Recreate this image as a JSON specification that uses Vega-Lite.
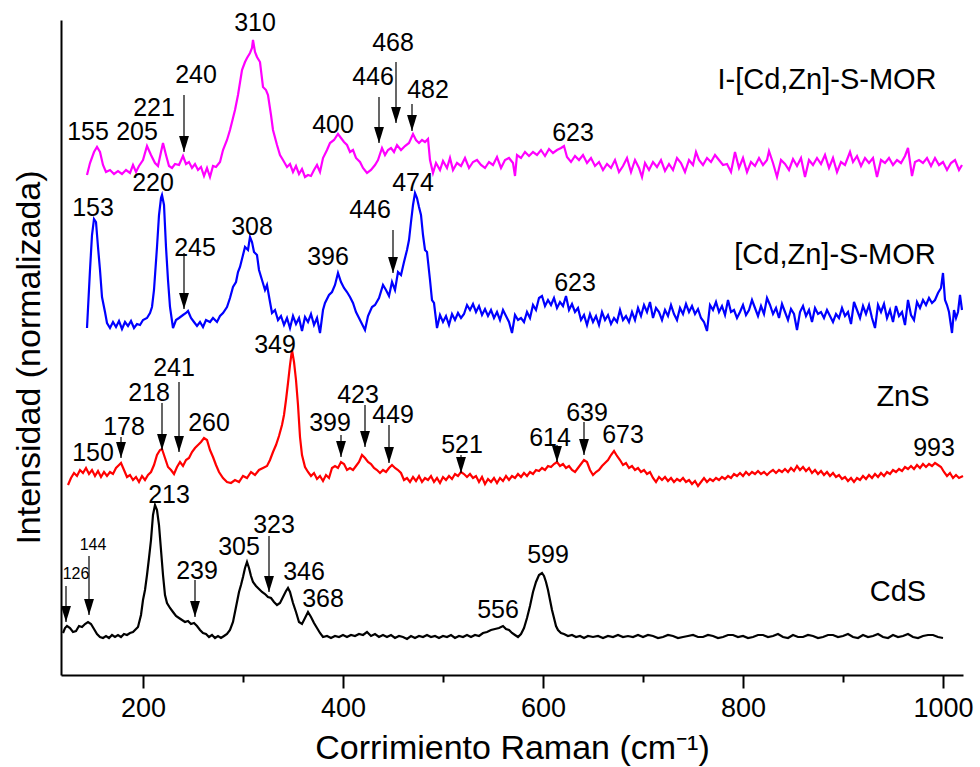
{
"$schema":"https://vega.github.io/schema/vega-lite/v6.json",
"width":902,"height":655,
"autosize":{"type":"none"},
"padding":{"left":61,"top":20,"right":17,"bottom":92},
"background":"white",
"config":{"view":{"stroke":null},"font":"Liberation Sans","axis":{"grid":false}},
"datasets":{
"mag":[{"x":144,"y":500},{"x":147,"y":512},{"x":151,"y":523},{"x":154,"y":528},{"x":157,"y":523},{"x":160,"y":510},{"x":163,"y":503},{"x":167,"y":505},{"x":171,"y":501},{"x":175,"y":504},{"x":179,"y":501},{"x":183,"y":505},{"x":187,"y":502},{"x":190,"y":510},{"x":193,"y":503},{"x":196,"y":509},{"x":200,"y":515},{"x":204,"y":529},{"x":208,"y":520},{"x":212,"y":512},{"x":215,"y":509},{"x":218,"y":523},{"x":220,"y":532},{"x":223,"y":520},{"x":226,"y":509},{"x":229,"y":507},{"x":232,"y":511},{"x":236,"y":510},{"x":240,"y":519},{"x":243,"y":511},{"x":246,"y":513},{"x":249,"y":507},{"x":252,"y":511},{"x":255,"y":505},{"x":258,"y":508},{"x":261,"y":499},{"x":264,"y":507},{"x":267,"y":498},{"x":270,"y":509},{"x":273,"y":508},{"x":277,"y":513},{"x":280,"y":525},{"x":284,"y":535},{"x":287,"y":545},{"x":290,"y":557},{"x":292,"y":565},{"x":295,"y":580},{"x":299,"y":605},{"x":302,"y":613},{"x":304,"y":617},{"x":307,"y":622},{"x":309,"y":627},{"x":310,"y":635},{"x":312,"y":623},{"x":314,"y":618},{"x":317,"y":613},{"x":320,"y":588},{"x":323,"y":585},{"x":325,"y":580},{"x":328,"y":560},{"x":330,"y":545},{"x":334,"y":530},{"x":337,"y":520},{"x":340,"y":515},{"x":344,"y":508},{"x":347,"y":511},{"x":350,"y":503},{"x":353,"y":509},{"x":356,"y":501},{"x":359,"y":506},{"x":362,"y":498},{"x":365,"y":500},{"x":368,"y":499},{"x":371,"y":505},{"x":374,"y":510},{"x":377,"y":503},{"x":380,"y":517},{"x":384,"y":525},{"x":387,"y":532},{"x":391,"y":535},{"x":395,"y":541},{"x":398,"y":537},{"x":401,"y":533},{"x":404,"y":530},{"x":407,"y":523},{"x":410,"y":525},{"x":413,"y":517},{"x":417,"y":513},{"x":420,"y":507},{"x":424,"y":502},{"x":428,"y":505},{"x":432,"y":510},{"x":435,"y":515},{"x":439,"y":527},{"x":442,"y":520},{"x":445,"y":525},{"x":448,"y":527},{"x":451,"y":523},{"x":454,"y":530},{"x":458,"y":525},{"x":462,"y":529},{"x":466,"y":532},{"x":470,"y":541},{"x":473,"y":535},{"x":476,"y":532},{"x":479,"y":535},{"x":482,"y":533},{"x":485,"y":536},{"x":487,"y":515},{"x":490,"y":502},{"x":493,"y":512},{"x":497,"y":505},{"x":500,"y":514},{"x":504,"y":507},{"x":507,"y":517},{"x":510,"y":505},{"x":514,"y":512},{"x":518,"y":509},{"x":522,"y":517},{"x":526,"y":507},{"x":530,"y":513},{"x":534,"y":515},{"x":538,"y":510},{"x":542,"y":507},{"x":546,"y":513},{"x":550,"y":510},{"x":554,"y":518},{"x":558,"y":507},{"x":562,"y":515},{"x":566,"y":517},{"x":570,"y":512},{"x":572,"y":499},{"x":574,"y":520},{"x":578,"y":517},{"x":582,"y":523},{"x":586,"y":519},{"x":590,"y":523},{"x":594,"y":520},{"x":598,"y":525},{"x":602,"y":519},{"x":606,"y":526},{"x":610,"y":522},{"x":614,"y":525},{"x":618,"y":527},{"x":621,"y":529},{"x":624,"y":518},{"x":628,"y":513},{"x":632,"y":519},{"x":636,"y":515},{"x":640,"y":520},{"x":644,"y":512},{"x":648,"y":517},{"x":652,"y":509},{"x":656,"y":513},{"x":660,"y":505},{"x":664,"y":511},{"x":668,"y":507},{"x":672,"y":515},{"x":676,"y":503},{"x":680,"y":509},{"x":684,"y":517},{"x":688,"y":503},{"x":692,"y":515},{"x":696,"y":507},{"x":699,"y":498},{"x":702,"y":512},{"x":706,"y":505},{"x":710,"y":513},{"x":714,"y":508},{"x":718,"y":515},{"x":722,"y":504},{"x":726,"y":511},{"x":730,"y":505},{"x":734,"y":517},{"x":738,"y":512},{"x":742,"y":503},{"x":746,"y":515},{"x":750,"y":510},{"x":753,"y":523},{"x":756,"y":515},{"x":760,"y":510},{"x":764,"y":517},{"x":768,"y":513},{"x":772,"y":520},{"x":776,"y":515},{"x":780,"y":510},{"x":784,"y":511},{"x":788,"y":503},{"x":792,"y":523},{"x":796,"y":507},{"x":800,"y":517},{"x":804,"y":503},{"x":808,"y":513},{"x":812,"y":509},{"x":816,"y":517},{"x":820,"y":510},{"x":824,"y":515},{"x":826,"y":524},{"x":830,"y":512},{"x":834,"y":498},{"x":838,"y":515},{"x":842,"y":511},{"x":846,"y":505},{"x":850,"y":516},{"x":854,"y":509},{"x":858,"y":517},{"x":862,"y":498},{"x":866,"y":515},{"x":870,"y":510},{"x":874,"y":517},{"x":878,"y":511},{"x":882,"y":520},{"x":886,"y":507},{"x":890,"y":517},{"x":894,"y":503},{"x":898,"y":513},{"x":902,"y":510},{"x":907,"y":523},{"x":910,"y":513},{"x":914,"y":519},{"x":918,"y":509},{"x":922,"y":517},{"x":926,"y":512},{"x":930,"y":517},{"x":934,"y":498},{"x":938,"y":515},{"x":942,"y":512},{"x":946,"y":517},{"x":950,"y":510},{"x":954,"y":515},{"x":958,"y":512},{"x":962,"y":519},{"x":965,"y":527},{"x":969,"y":499},{"x":972,"y":513},{"x":976,"y":515},{"x":980,"y":512},{"x":984,"y":517},{"x":988,"y":509},{"x":992,"y":517},{"x":996,"y":510},{"x":1000,"y":513},{"x":1004,"y":505},{"x":1008,"y":512},{"x":1012,"y":515},{"x":1016,"y":505},{"x":1019,"y":510}],
"blue":[{"x":144,"y":347},{"x":147,"y":405},{"x":149,"y":440},{"x":151,"y":456},{"x":153,"y":453},{"x":155,"y":428},{"x":157,"y":405},{"x":159,"y":378},{"x":162,"y":363},{"x":164,"y":352},{"x":167,"y":347},{"x":170,"y":353},{"x":173,"y":348},{"x":176,"y":354},{"x":179,"y":346},{"x":182,"y":353},{"x":185,"y":349},{"x":188,"y":354},{"x":191,"y":347},{"x":194,"y":351},{"x":197,"y":350},{"x":200,"y":355},{"x":204,"y":357},{"x":207,"y":362},{"x":209,"y":368},{"x":211,"y":385},{"x":214,"y":428},{"x":216,"y":460},{"x":218,"y":477},{"x":219,"y":480},{"x":221,"y":470},{"x":223,"y":428},{"x":225,"y":395},{"x":227,"y":368},{"x":230,"y":347},{"x":233,"y":355},{"x":236,"y":357},{"x":240,"y":360},{"x":243,"y":362},{"x":245,"y":364},{"x":248,"y":357},{"x":251,"y":353},{"x":254,"y":349},{"x":257,"y":353},{"x":260,"y":348},{"x":263,"y":355},{"x":267,"y":353},{"x":270,"y":357},{"x":274,"y":353},{"x":277,"y":359},{"x":280,"y":362},{"x":284,"y":368},{"x":287,"y":377},{"x":290,"y":388},{"x":293,"y":393},{"x":295,"y":403},{"x":297,"y":408},{"x":300,"y":420},{"x":302,"y":428},{"x":305,"y":425},{"x":307,"y":438},{"x":309,"y":433},{"x":311,"y":423},{"x":314,"y":420},{"x":316,"y":405},{"x":319,"y":395},{"x":322,"y":385},{"x":324,"y":390},{"x":327,"y":373},{"x":329,"y":362},{"x":332,"y":365},{"x":335,"y":355},{"x":338,"y":359},{"x":341,"y":350},{"x":344,"y":357},{"x":347,"y":347},{"x":350,"y":359},{"x":353,"y":351},{"x":356,"y":357},{"x":359,"y":344},{"x":362,"y":358},{"x":365,"y":353},{"x":368,"y":361},{"x":371,"y":350},{"x":374,"y":357},{"x":377,"y":342},{"x":380,"y":365},{"x":382,"y":372},{"x":386,"y":380},{"x":389,"y":383},{"x":392,"y":390},{"x":395,"y":402},{"x":398,"y":393},{"x":401,"y":387},{"x":404,"y":383},{"x":407,"y":378},{"x":410,"y":372},{"x":413,"y":363},{"x":416,"y":357},{"x":419,"y":351},{"x":422,"y":345},{"x":425,"y":359},{"x":429,"y":368},{"x":432,"y":370},{"x":436,"y":377},{"x":440,"y":390},{"x":443,"y":385},{"x":446,"y":379},{"x":449,"y":393},{"x":452,"y":385},{"x":455,"y":403},{"x":458,"y":400},{"x":461,"y":413},{"x":464,"y":425},{"x":466,"y":435},{"x":468,"y":453},{"x":470,"y":470},{"x":472,"y":482},{"x":474,"y":477},{"x":476,"y":468},{"x":478,"y":460},{"x":480,"y":440},{"x":482,"y":425},{"x":484,"y":423},{"x":487,"y":395},{"x":489,"y":375},{"x":491,"y":372},{"x":494,"y":347},{"x":497,"y":360},{"x":500,"y":353},{"x":503,"y":359},{"x":506,"y":350},{"x":509,"y":361},{"x":512,"y":355},{"x":515,"y":362},{"x":518,"y":357},{"x":521,"y":361},{"x":524,"y":370},{"x":527,"y":365},{"x":530,"y":371},{"x":533,"y":363},{"x":536,"y":369},{"x":539,"y":360},{"x":542,"y":366},{"x":545,"y":359},{"x":548,"y":365},{"x":551,"y":357},{"x":554,"y":363},{"x":557,"y":355},{"x":560,"y":365},{"x":563,"y":359},{"x":566,"y":353},{"x":569,"y":342},{"x":572,"y":360},{"x":575,"y":355},{"x":578,"y":357},{"x":581,"y":353},{"x":584,"y":363},{"x":587,"y":357},{"x":590,"y":370},{"x":593,"y":365},{"x":596,"y":377},{"x":599,"y":379},{"x":602,"y":369},{"x":605,"y":375},{"x":608,"y":370},{"x":611,"y":377},{"x":614,"y":367},{"x":617,"y":373},{"x":620,"y":369},{"x":623,"y":379},{"x":626,"y":365},{"x":629,"y":371},{"x":632,"y":363},{"x":635,"y":367},{"x":638,"y":355},{"x":641,"y":360},{"x":644,"y":350},{"x":647,"y":361},{"x":650,"y":353},{"x":653,"y":359},{"x":656,"y":350},{"x":659,"y":363},{"x":662,"y":355},{"x":665,"y":360},{"x":668,"y":351},{"x":671,"y":357},{"x":674,"y":353},{"x":677,"y":365},{"x":680,"y":355},{"x":683,"y":359},{"x":686,"y":353},{"x":689,"y":363},{"x":692,"y":355},{"x":695,"y":367},{"x":698,"y":359},{"x":701,"y":370},{"x":704,"y":363},{"x":707,"y":373},{"x":710,"y":357},{"x":713,"y":367},{"x":716,"y":363},{"x":719,"y":355},{"x":722,"y":365},{"x":725,"y":359},{"x":728,"y":370},{"x":731,"y":361},{"x":734,"y":355},{"x":737,"y":367},{"x":740,"y":361},{"x":743,"y":371},{"x":746,"y":363},{"x":749,"y":369},{"x":752,"y":361},{"x":755,"y":366},{"x":758,"y":357},{"x":761,"y":353},{"x":764,"y":344},{"x":767,"y":370},{"x":770,"y":365},{"x":773,"y":373},{"x":776,"y":363},{"x":779,"y":369},{"x":782,"y":360},{"x":785,"y":375},{"x":788,"y":363},{"x":791,"y":365},{"x":794,"y":357},{"x":797,"y":363},{"x":800,"y":370},{"x":803,"y":360},{"x":806,"y":365},{"x":809,"y":375},{"x":812,"y":367},{"x":815,"y":359},{"x":818,"y":369},{"x":821,"y":361},{"x":824,"y":377},{"x":827,"y":370},{"x":830,"y":361},{"x":833,"y":367},{"x":836,"y":357},{"x":839,"y":371},{"x":842,"y":363},{"x":845,"y":355},{"x":848,"y":366},{"x":851,"y":361},{"x":854,"y":345},{"x":857,"y":363},{"x":860,"y":369},{"x":863,"y":359},{"x":866,"y":365},{"x":869,"y":353},{"x":872,"y":367},{"x":875,"y":361},{"x":878,"y":363},{"x":881,"y":357},{"x":884,"y":365},{"x":887,"y":359},{"x":890,"y":353},{"x":893,"y":361},{"x":896,"y":357},{"x":899,"y":367},{"x":902,"y":359},{"x":905,"y":363},{"x":908,"y":351},{"x":911,"y":373},{"x":914,"y":365},{"x":917,"y":357},{"x":920,"y":369},{"x":923,"y":361},{"x":926,"y":370},{"x":929,"y":357},{"x":932,"y":347},{"x":935,"y":370},{"x":938,"y":363},{"x":941,"y":371},{"x":944,"y":357},{"x":947,"y":365},{"x":950,"y":353},{"x":953,"y":369},{"x":956,"y":359},{"x":959,"y":363},{"x":962,"y":350},{"x":965,"y":375},{"x":968,"y":360},{"x":971,"y":355},{"x":974,"y":373},{"x":977,"y":367},{"x":980,"y":375},{"x":983,"y":370},{"x":986,"y":377},{"x":989,"y":372},{"x":992,"y":375},{"x":995,"y":382},{"x":998,"y":387},{"x":1000,"y":402},{"x":1002,"y":375},{"x":1004,"y":370},{"x":1006,"y":363},{"x":1009,"y":342},{"x":1011,"y":365},{"x":1013,"y":357},{"x":1015,"y":363},{"x":1017,"y":380},{"x":1019,"y":365}],
"red":[{"x":125,"y":190},{"x":128,"y":197},{"x":131,"y":202},{"x":134,"y":199},{"x":137,"y":205},{"x":140,"y":202},{"x":143,"y":207},{"x":146,"y":201},{"x":149,"y":205},{"x":152,"y":199},{"x":155,"y":204},{"x":158,"y":198},{"x":161,"y":203},{"x":164,"y":199},{"x":167,"y":203},{"x":170,"y":201},{"x":173,"y":207},{"x":176,"y":210},{"x":178,"y":212},{"x":181,"y":205},{"x":184,"y":198},{"x":187,"y":200},{"x":190,"y":195},{"x":193,"y":198},{"x":196,"y":193},{"x":199,"y":199},{"x":202,"y":195},{"x":205,"y":200},{"x":208,"y":203},{"x":211,"y":210},{"x":214,"y":220},{"x":217,"y":225},{"x":219,"y":226},{"x":222,"y":217},{"x":225,"y":208},{"x":228,"y":205},{"x":231,"y":201},{"x":234,"y":208},{"x":237,"y":213},{"x":240,"y":209},{"x":243,"y":215},{"x":246,"y":217},{"x":249,"y":223},{"x":252,"y":227},{"x":255,"y":230},{"x":258,"y":233},{"x":261,"y":237},{"x":264,"y":235},{"x":267,"y":225},{"x":270,"y":218},{"x":273,"y":210},{"x":276,"y":203},{"x":280,"y":197},{"x":284,"y":193},{"x":288,"y":192},{"x":292,"y":195},{"x":296,"y":193},{"x":300,"y":199},{"x":304,"y":197},{"x":308,"y":203},{"x":312,"y":200},{"x":316,"y":205},{"x":320,"y":207},{"x":324,"y":209},{"x":327,"y":215},{"x":330,"y":223},{"x":333,"y":230},{"x":336,"y":239},{"x":339,"y":250},{"x":341,"y":260},{"x":343,"y":275},{"x":345,"y":292},{"x":347,"y":310},{"x":349,"y":325},{"x":351,"y":313},{"x":353,"y":295},{"x":355,"y":270},{"x":357,"y":238},{"x":359,"y":220},{"x":362,"y":208},{"x":365,"y":203},{"x":368,"y":199},{"x":371,"y":202},{"x":374,"y":196},{"x":377,"y":199},{"x":380,"y":194},{"x":383,"y":200},{"x":386,"y":197},{"x":389,"y":207},{"x":392,"y":209},{"x":395,"y":207},{"x":398,"y":213},{"x":401,"y":211},{"x":404,"y":205},{"x":407,"y":207},{"x":410,"y":205},{"x":413,"y":209},{"x":416,"y":213},{"x":419,"y":220},{"x":422,"y":217},{"x":425,"y":213},{"x":428,"y":211},{"x":431,"y":207},{"x":434,"y":205},{"x":437,"y":202},{"x":440,"y":205},{"x":443,"y":203},{"x":446,"y":207},{"x":449,"y":210},{"x":452,"y":207},{"x":455,"y":205},{"x":458,"y":202},{"x":461,"y":195},{"x":464,"y":197},{"x":467,"y":193},{"x":470,"y":198},{"x":473,"y":194},{"x":476,"y":199},{"x":479,"y":193},{"x":482,"y":197},{"x":485,"y":195},{"x":488,"y":199},{"x":491,"y":193},{"x":494,"y":197},{"x":497,"y":192},{"x":500,"y":198},{"x":503,"y":195},{"x":506,"y":199},{"x":509,"y":196},{"x":512,"y":201},{"x":515,"y":199},{"x":518,"y":203},{"x":521,"y":201},{"x":524,"y":198},{"x":527,"y":201},{"x":530,"y":197},{"x":533,"y":199},{"x":536,"y":193},{"x":539,"y":198},{"x":542,"y":191},{"x":545,"y":196},{"x":548,"y":193},{"x":551,"y":197},{"x":554,"y":192},{"x":557,"y":197},{"x":560,"y":194},{"x":563,"y":199},{"x":566,"y":195},{"x":569,"y":199},{"x":572,"y":197},{"x":575,"y":201},{"x":578,"y":198},{"x":581,"y":202},{"x":584,"y":199},{"x":587,"y":203},{"x":590,"y":201},{"x":593,"y":205},{"x":596,"y":204},{"x":599,"y":207},{"x":602,"y":205},{"x":605,"y":209},{"x":608,"y":208},{"x":611,"y":211},{"x":614,"y":213},{"x":617,"y":209},{"x":620,"y":211},{"x":623,"y":207},{"x":626,"y":209},{"x":629,"y":205},{"x":632,"y":203},{"x":635,"y":207},{"x":638,"y":211},{"x":641,"y":215},{"x":644,"y":213},{"x":647,"y":205},{"x":650,"y":200},{"x":653,"y":203},{"x":656,"y":205},{"x":659,"y":209},{"x":662,"y":212},{"x":665,"y":215},{"x":668,"y":220},{"x":671,"y":224},{"x":674,"y":219},{"x":677,"y":215},{"x":680,"y":210},{"x":683,"y":212},{"x":686,"y":207},{"x":689,"y":209},{"x":692,"y":205},{"x":695,"y":207},{"x":698,"y":203},{"x":701,"y":205},{"x":704,"y":201},{"x":707,"y":203},{"x":710,"y":197},{"x":713,"y":193},{"x":716,"y":198},{"x":719,"y":195},{"x":722,"y":198},{"x":725,"y":194},{"x":728,"y":197},{"x":731,"y":193},{"x":734,"y":196},{"x":737,"y":194},{"x":740,"y":197},{"x":743,"y":193},{"x":746,"y":195},{"x":749,"y":191},{"x":752,"y":194},{"x":755,"y":189},{"x":758,"y":193},{"x":761,"y":197},{"x":764,"y":193},{"x":767,"y":196},{"x":770,"y":194},{"x":773,"y":197},{"x":776,"y":195},{"x":779,"y":198},{"x":782,"y":196},{"x":785,"y":199},{"x":788,"y":197},{"x":791,"y":201},{"x":794,"y":199},{"x":797,"y":202},{"x":800,"y":199},{"x":803,"y":203},{"x":806,"y":200},{"x":809,"y":203},{"x":812,"y":201},{"x":815,"y":204},{"x":818,"y":201},{"x":821,"y":203},{"x":824,"y":200},{"x":827,"y":203},{"x":830,"y":205},{"x":833,"y":202},{"x":836,"y":205},{"x":839,"y":203},{"x":842,"y":206},{"x":845,"y":203},{"x":848,"y":207},{"x":851,"y":204},{"x":854,"y":209},{"x":857,"y":205},{"x":860,"y":208},{"x":863,"y":204},{"x":866,"y":207},{"x":869,"y":202},{"x":872,"y":205},{"x":875,"y":201},{"x":878,"y":204},{"x":881,"y":200},{"x":884,"y":203},{"x":887,"y":199},{"x":890,"y":202},{"x":893,"y":198},{"x":896,"y":200},{"x":899,"y":196},{"x":902,"y":198},{"x":905,"y":194},{"x":908,"y":197},{"x":911,"y":193},{"x":914,"y":197},{"x":917,"y":195},{"x":920,"y":199},{"x":923,"y":196},{"x":926,"y":200},{"x":929,"y":197},{"x":932,"y":201},{"x":935,"y":198},{"x":938,"y":202},{"x":941,"y":199},{"x":944,"y":203},{"x":947,"y":201},{"x":950,"y":205},{"x":953,"y":203},{"x":956,"y":206},{"x":959,"y":204},{"x":962,"y":208},{"x":965,"y":206},{"x":968,"y":209},{"x":971,"y":206},{"x":974,"y":210},{"x":977,"y":207},{"x":980,"y":211},{"x":983,"y":208},{"x":986,"y":211},{"x":989,"y":209},{"x":992,"y":212},{"x":995,"y":210},{"x":998,"y":208},{"x":1001,"y":203},{"x":1004,"y":199},{"x":1007,"y":202},{"x":1010,"y":197},{"x":1013,"y":200},{"x":1016,"y":197},{"x":1020,"y":199}],
"black":[{"x":120,"y":42},{"x":122,"y":47},{"x":124,"y":49},{"x":127,"y":47},{"x":130,"y":43},{"x":133,"y":44},{"x":136,"y":49},{"x":139,"y":48},{"x":142,"y":51},{"x":145,"y":53},{"x":148,"y":51},{"x":151,"y":46},{"x":154,"y":41},{"x":157,"y":38},{"x":160,"y":37},{"x":163,"y":39},{"x":166,"y":37},{"x":169,"y":40},{"x":172,"y":38},{"x":175,"y":40},{"x":178,"y":38},{"x":181,"y":41},{"x":184,"y":40},{"x":187,"y":42},{"x":190,"y":43},{"x":193,"y":46},{"x":195,"y":48},{"x":198,"y":60},{"x":200,"y":75},{"x":202,"y":85},{"x":204,"y":100},{"x":206,"y":117},{"x":208,"y":135},{"x":210,"y":160},{"x":212,"y":170},{"x":214,"y":165},{"x":216,"y":150},{"x":218,"y":125},{"x":220,"y":100},{"x":222,"y":80},{"x":224,"y":72},{"x":227,"y":67},{"x":230,"y":63},{"x":233,"y":59},{"x":236,"y":57},{"x":239,"y":55},{"x":242,"y":53},{"x":245,"y":54},{"x":248,"y":51},{"x":251,"y":52},{"x":254,"y":49},{"x":257,"y":45},{"x":260,"y":42},{"x":263,"y":41},{"x":266,"y":38},{"x":269,"y":40},{"x":272,"y":37},{"x":275,"y":39},{"x":278,"y":37},{"x":281,"y":39},{"x":284,"y":41},{"x":287,"y":45},{"x":290,"y":53},{"x":292,"y":63},{"x":294,"y":73},{"x":296,"y":83},{"x":298,"y":90},{"x":300,"y":98},{"x":302,"y":107},{"x":304,"y":113},{"x":306,"y":107},{"x":308,"y":99},{"x":310,"y":93},{"x":313,"y":89},{"x":316,"y":86},{"x":319,"y":83},{"x":322,"y":81},{"x":325,"y":78},{"x":328,"y":77},{"x":331,"y":73},{"x":334,"y":70},{"x":337,"y":72},{"x":340,"y":78},{"x":343,"y":84},{"x":345,"y":87},{"x":347,"y":83},{"x":350,"y":72},{"x":353,"y":63},{"x":356,"y":53},{"x":359,"y":51},{"x":362,"y":57},{"x":365,"y":63},{"x":368,"y":58},{"x":371,"y":52},{"x":374,"y":47},{"x":377,"y":42},{"x":380,"y":38},{"x":384,"y":39},{"x":388,"y":37},{"x":392,"y":39},{"x":396,"y":38},{"x":400,"y":40},{"x":404,"y":38},{"x":408,"y":40},{"x":412,"y":39},{"x":416,"y":41},{"x":420,"y":40},{"x":424,"y":43},{"x":428,"y":39},{"x":432,"y":41},{"x":436,"y":38},{"x":440,"y":40},{"x":444,"y":38},{"x":448,"y":40},{"x":452,"y":37},{"x":456,"y":39},{"x":460,"y":38},{"x":464,"y":36},{"x":468,"y":39},{"x":472,"y":37},{"x":476,"y":39},{"x":480,"y":38},{"x":484,"y":40},{"x":488,"y":38},{"x":492,"y":39},{"x":496,"y":37},{"x":500,"y":39},{"x":504,"y":38},{"x":508,"y":40},{"x":512,"y":37},{"x":516,"y":39},{"x":520,"y":38},{"x":524,"y":40},{"x":528,"y":38},{"x":532,"y":40},{"x":536,"y":39},{"x":540,"y":42},{"x":544,"y":43},{"x":548,"y":45},{"x":552,"y":46},{"x":556,"y":47},{"x":560,"y":49},{"x":563,"y":46},{"x":566,"y":45},{"x":569,"y":42},{"x":572,"y":40},{"x":575,"y":38},{"x":578,"y":41},{"x":581,"y":47},{"x":584,"y":57},{"x":587,"y":69},{"x":590,"y":83},{"x":593,"y":93},{"x":596,"y":100},{"x":599,"y":102},{"x":601,"y":99},{"x":603,"y":93},{"x":605,"y":85},{"x":607,"y":75},{"x":609,"y":65},{"x":611,"y":57},{"x":613,"y":49},{"x":615,"y":45},{"x":618,"y":42},{"x":621,"y":41},{"x":625,"y":39},{"x":629,"y":40},{"x":633,"y":38},{"x":637,"y":39},{"x":641,"y":37},{"x":645,"y":39},{"x":650,"y":38},{"x":655,"y":39},{"x":660,"y":37},{"x":665,"y":39},{"x":670,"y":38},{"x":675,"y":40},{"x":680,"y":38},{"x":685,"y":39},{"x":690,"y":38},{"x":695,"y":40},{"x":700,"y":38},{"x":705,"y":40},{"x":710,"y":39},{"x":715,"y":37},{"x":720,"y":38},{"x":725,"y":40},{"x":730,"y":39},{"x":735,"y":37},{"x":740,"y":38},{"x":745,"y":39},{"x":750,"y":40},{"x":755,"y":38},{"x":760,"y":38},{"x":765,"y":40},{"x":770,"y":39},{"x":775,"y":37},{"x":780,"y":38},{"x":785,"y":40},{"x":790,"y":40},{"x":795,"y":38},{"x":800,"y":39},{"x":805,"y":37},{"x":810,"y":38},{"x":815,"y":40},{"x":820,"y":40},{"x":825,"y":38},{"x":830,"y":39},{"x":835,"y":41},{"x":840,"y":38},{"x":845,"y":37},{"x":850,"y":40},{"x":855,"y":38},{"x":860,"y":38},{"x":865,"y":40},{"x":870,"y":39},{"x":875,"y":37},{"x":880,"y":38},{"x":885,"y":40},{"x":890,"y":40},{"x":895,"y":38},{"x":900,"y":39},{"x":905,"y":41},{"x":910,"y":38},{"x":915,"y":37},{"x":920,"y":40},{"x":925,"y":38},{"x":930,"y":39},{"x":935,"y":41},{"x":940,"y":38},{"x":945,"y":37},{"x":950,"y":40},{"x":955,"y":38},{"x":960,"y":39},{"x":965,"y":41},{"x":970,"y":38},{"x":975,"y":37},{"x":980,"y":39},{"x":985,"y":40},{"x":990,"y":40},{"x":995,"y":38},{"x":1000,"y":37}],
"labels":[{"t":"155","x":145,"y":543},{"t":"205","x":194,"y":543},{"t":"221","x":211,"y":567},{"t":"240","x":253,"y":600},{"t":"310","x":312,"y":652},{"t":"400","x":390,"y":550},{"t":"446","x":430,"y":598},{"t":"468","x":450,"y":632},{"t":"482","x":485,"y":585},{"t":"623","x":630,"y":542},{"t":"153","x":150,"y":467},{"t":"220","x":210,"y":492},{"t":"245","x":252,"y":427},{"t":"308","x":309,"y":448},{"t":"396","x":385,"y":418},{"t":"446","x":427,"y":465},{"t":"474","x":470,"y":492},{"t":"623","x":632,"y":392},{"t":"150","x":150,"y":222},{"t":"178","x":181,"y":248},{"t":"218","x":206,"y":282},{"t":"241","x":231,"y":307},{"t":"260","x":266,"y":252},{"t":"349","x":332,"y":330},{"t":"399","x":387,"y":252},{"t":"423","x":415,"y":280},{"t":"449","x":450,"y":260},{"t":"521","x":519,"y":230},{"t":"614","x":607,"y":237},{"t":"639","x":644,"y":262},{"t":"673","x":680,"y":240},{"t":"993","x":991,"y":227},{"t":"213","x":226,"y":180},{"t":"305","x":296,"y":128},{"t":"323","x":331,"y":150},{"t":"239","x":254,"y":104},{"t":"346","x":361,"y":103},{"t":"368","x":380,"y":76},{"t":"556","x":555,"y":65},{"t":"599","x":605,"y":120}],
"small":[{"t":"144","x":150,"y":130},{"t":"126","x":133,"y":101}],
"names":[{"t":"I-[Cd,Zn]-S-MOR","x":884,"y":595},{"t":"[Cd,Zn]-S-MOR","x":892,"y":420},{"t":"ZnS","x":960,"y":278},{"t":"CdS","x":955,"y":83}],
"arrows":[{"x":241,"y":580,"y2":523},{"x":436,"y":578,"y2":532},{"x":453,"y":613,"y2":552},{"x":469,"y":571,"y2":544},{"x":241,"y":422,"y2":366},{"x":450,"y":445,"y2":402},{"x":178,"y":238,"y2":217},{"x":219,"y":272,"y2":225},{"x":236,"y":293,"y2":223},{"x":398,"y":240,"y2":218},{"x":422,"y":270,"y2":228},{"x":446,"y":250,"y2":212},{"x":518,"y":220,"y2":202},{"x":614,"y":230,"y2":213},{"x":641,"y":253,"y2":220},{"x":123,"y":89,"y2":53},{"x":146,"y":119,"y2":60},{"x":252,"y":95,"y2":58},{"x":326,"y":139,"y2":83}]
},
"layer":[
{"data":{"name":"black"},"mark":{"type":"line","color":"#000000","strokeWidth":2.2},
 "encoding":{
  "x":{"field":"x","type":"quantitative","scale":{"domain":[118,1020],"nice":false,"zero":false},
   "axis":{"title":"Corrimiento Raman (cm⁻¹)","titleFontSize":34,"titleFontWeight":"normal","titleColor":"black","titleBaseline":"alphabetic","titleY":83,
    "values":[200,300,400,500,600,700,800,900,1000],"format":"d","labelExpr":"datum.value % 200 === 0 ? datum.label : ''",
    "labelFontSize":27,"labelColor":"black","labelPadding":7,"labelFlush":false,"labelOverlap":false,
    "domainColor":"black","domainWidth":2,"tickColor":"black","tickWidth":2,
    "tickSize":{"condition":{"test":"datum.value % 200 === 0","value":13},"value":7}}},
  "y":{"field":"y","type":"quantitative","scale":{"domain":[0,655],"nice":false,"zero":false},
   "axis":{"title":"Intensidad (normalizada)","titleFontSize":34,"titleFontWeight":"normal","titleColor":"black","titleBaseline":"alphabetic","titleAngle":-90,"titleX":-22,"titleY":337,"titleAlign":"center",
    "ticks":false,"labels":false,"domainColor":"black","domainWidth":2}}}},
{"data":{"name":"red"},"mark":{"type":"line","color":"#FF0000","strokeWidth":2.2},
 "encoding":{"x":{"field":"x","type":"quantitative"},"y":{"field":"y","type":"quantitative"}}},
{"data":{"name":"blue"},"mark":{"type":"line","color":"#0000FF","strokeWidth":2.2},
 "encoding":{"x":{"field":"x","type":"quantitative"},"y":{"field":"y","type":"quantitative"}}},
{"data":{"name":"mag"},"mark":{"type":"line","color":"#FF00FF","strokeWidth":2.2},
 "encoding":{"x":{"field":"x","type":"quantitative"},"y":{"field":"y","type":"quantitative"}}},
{"data":{"name":"arrows"},"mark":{"type":"rule","color":"black","strokeWidth":1.2},
 "encoding":{"x":{"field":"x","type":"quantitative"},"y":{"field":"y","type":"quantitative"},"y2":{"field":"y2"}}},
{"data":{"name":"arrows"},"mark":{"type":"point","shape":"M-0.31,-1L0.31,-1L0,0Z","filled":true,"size":1024,"color":"black","opacity":1,"strokeWidth":0},
 "encoding":{"x":{"field":"x","type":"quantitative"},"y":{"field":"y2","type":"quantitative"}}},
{"data":{"name":"labels"},"mark":{"type":"text","fontSize":25,"align":"center","baseline":"middle","color":"black","font":"Liberation Sans"},
 "encoding":{"x":{"field":"x","type":"quantitative"},"y":{"field":"y","type":"quantitative"},"text":{"field":"t"}}},
{"data":{"name":"small"},"mark":{"type":"text","fontSize":16,"align":"center","baseline":"middle","color":"black","font":"Liberation Sans"},
 "encoding":{"x":{"field":"x","type":"quantitative"},"y":{"field":"y","type":"quantitative"},"text":{"field":"t"}}},
{"data":{"name":"names"},"mark":{"type":"text","fontSize":29,"align":"center","baseline":"middle","color":"black","font":"Liberation Sans"},
 "encoding":{"x":{"field":"x","type":"quantitative"},"y":{"field":"y","type":"quantitative"},"text":{"field":"t"}}}
]
}
